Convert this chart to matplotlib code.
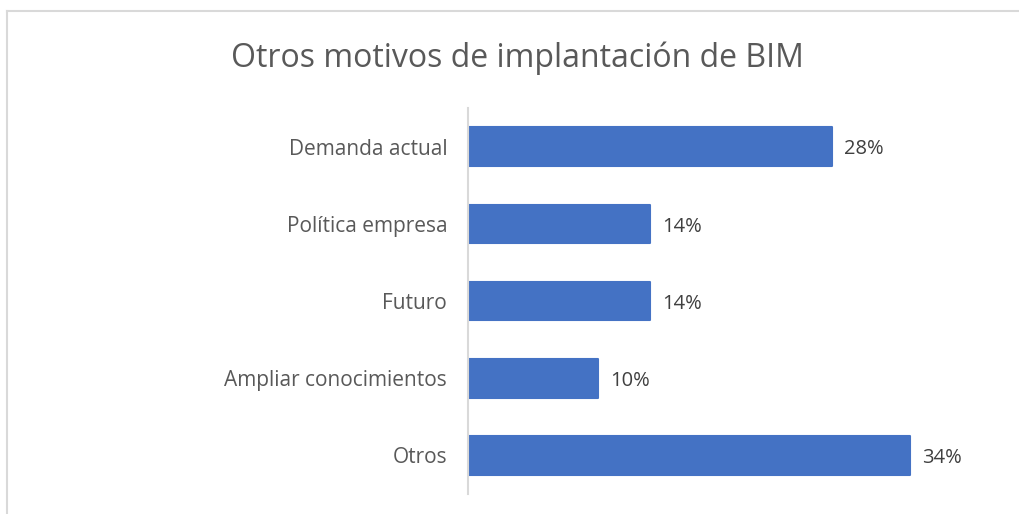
import matplotlib
matplotlib.use("Agg")
import matplotlib.pyplot as plt
from matplotlib.lines import Line2D

categories = ["Demanda actual", "Política empresa", "Futuro", "Ampliar conocimientos", "Otros"]
values = [28, 14, 14, 10, 34]
title = "Otros motivos de implantación de BIM"

plt.rcParams['font.family'] = ['Open Sans', 'DejaVu Sans']

W, H = 1020, 514
fig = plt.figure(figsize=(W / 100, H / 100), dpi=100)
ax = fig.add_axes([468 / W, 20 / H, (988 - 468) / W, (494 - 108) / H])

ypos = list(range(len(categories)))
ax.barh(ypos, values, height=0.5, color="#4472C4", edgecolor="#4472C4",
        linewidth=1.5, joinstyle="round")
ax.set_ylim(len(categories) - 0.5, -0.5)
ax.set_xlim(0, 40)
ax.set_yticks(ypos)
ax.set_yticklabels(categories, fontsize=15, color="#595959")
ax.tick_params(axis="y", length=0, pad=15)
ax.set_xticks([])
for s in ["top", "right", "bottom"]:
    ax.spines[s].set_visible(False)
ax.spines["left"].set_color("#D9D9D9")
ax.spines["left"].set_linewidth(1.5)

for y, v in zip(ypos, values):
    ax.annotate(f"{v}%", xy=(v, y), xytext=(9, -2), textcoords="offset points",
                va="center", ha="left", fontsize=14.5, color="#404040")

fig.text(517 / W, 1 - 58 / H, title, ha="center", va="center", fontsize=23, color="#595959")

fig.add_artist(Line2D([7.5 / W, 7.5 / W], [0, 1 - 10.5 / H], transform=fig.transFigure,
                      color="#D9D9D9", linewidth=1.5))
fig.add_artist(Line2D([7.5 / W, 1], [1 - 10.5 / H, 1 - 10.5 / H], transform=fig.transFigure,
                      color="#D9D9D9", linewidth=1.5))

fig.savefig("out.png", dpi=100)
